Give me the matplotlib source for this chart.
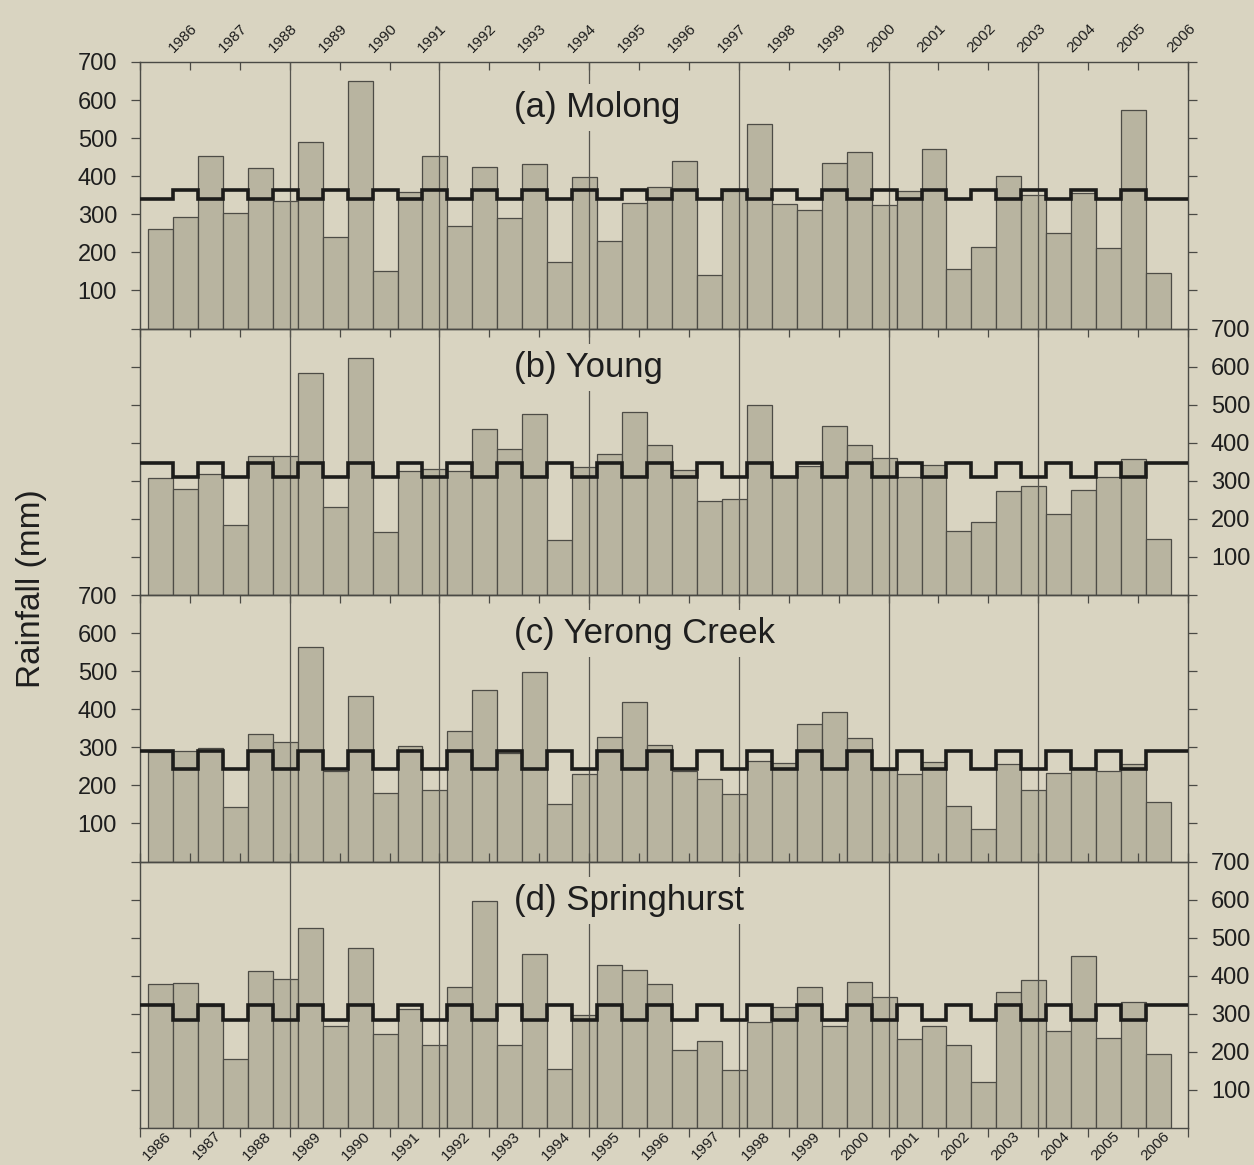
import numpy as np
import matplotlib
matplotlib.use("Agg")
import matplotlib.pyplot as plt

plt.rcParams['font.family'] = ['Liberation Sans', 'DejaVu Sans']

# ---------------- data ----------------
years = list(range(1986, 2007))
panel_labels = ["(a) Molong", "(b) Young", "(c) Yerong Creek", "(d) Springhurst"]

# half-yearly (seasonal) rainfall, 41 seasons from 1986 to 2006 (mm)
molong = [261, 294, 454, 303, 421, 334, 491, 241, 649, 151, 359, 454, 268, 425, 290, 433,
          175, 399, 230, 330, 372, 441, 140, 360, 538, 328, 310, 436, 463, 325, 362, 471,
          155, 213, 400, 350, 251, 355, 211, 575, 146]
young = [308, 279, 319, 184, 366, 366, 584, 230, 622, 166, 326, 332, 327, 435, 383, 476,
         144, 335, 370, 480, 395, 329, 246, 253, 500, 311, 340, 444, 393, 360, 309, 342,
         169, 193, 273, 287, 212, 276, 311, 356, 148]
yerong = [288, 291, 299, 144, 335, 315, 564, 237, 436, 180, 304, 189, 344, 451, 284, 498,
          150, 229, 326, 418, 306, 237, 216, 178, 263, 259, 361, 392, 325, 241, 231, 261,
          147, 85, 257, 187, 233, 245, 237, 257, 156]
springhurst = [377, 380, 321, 180, 412, 391, 526, 268, 474, 248, 312, 218, 371, 596, 218, 458,
               156, 298, 429, 414, 377, 204, 228, 152, 279, 319, 370, 268, 383, 343, 235, 267,
               219, 122, 357, 390, 254, 452, 237, 330, 195]

# long-term seasonal means (first season, second season)
mean_first = [340, 346, 290, 324]
mean_second = [363, 311, 242, 284]

series = [molong, young, yerong, springhurst]
yticks = [100, 200, 300, 400, 500, 600, 700]

# ---------------- style ----------------
BG = '#d9d4c1'
BAR = '#b8b4a0'
EDGE = '#4d4c46'
LINE = '#1c1c1a'
TXT = '#1e1e1e'

W, H = 1254, 1165
fig = plt.figure(figsize=(W / 100, H / 100), dpi=100, facecolor=BG)

left_px, right_px = 140, 1188
top_px, panel_h = 62, 266.5

n = len(molong)
season_w = 0.5
first_edge = 1986.16
bar_left = first_edge + season_w * np.arange(n)
bar_center = bar_left + season_w / 2
xmin, xmax = years[0], years[-1] + 1

for k, (vals, lab) in enumerate(zip(series, panel_labels)):
    bottom_px = top_px + panel_h * (k + 1)
    ax = fig.add_axes([left_px / W, 1 - bottom_px / H, (right_px - left_px) / W, panel_h / H])
    ax.set_facecolor('none')
    ax.set_xlim(xmin, xmax)
    ax.set_ylim(0, 700)

    ax.bar(bar_center, vals, width=season_w, color=BAR, edgecolor=EDGE, linewidth=0.9, zorder=2)

    # alternating seasonal mean (step line)
    pattern = [mean_first[k] if i % 2 == 0 else mean_second[k] for i in range(n)]
    edges = np.concatenate([[xmin], bar_left[1:], [xmax]])
    ax.stairs(pattern, edges, baseline=None, color=LINE, linewidth=2.6, zorder=4)

    # vertical reference lines every 3 years
    ax.vlines(np.arange(1989, 2005, 3), 0, 700, color='#55544e', linewidth=0.9, zorder=3)

    ty = 580 if k == 0 else 598
    ax.text(1993.5, ty, lab, fontsize=25, color=TXT, ha='left', va='center', zorder=6,
            bbox=dict(boxstyle='square,pad=0.2', fc=BG, ec='none'))

    for s in ax.spines.values():
        s.set_color('#4a4a45')
        s.set_linewidth(1.0)

    # y axis
    ax.set_yticks(yticks)
    ax.set_yticklabels([str(v) for v in yticks])
    ax.tick_params(axis='y', direction='out', length=6.5, width=0.9, color='#4a4a45',
                   left=True, right=True, labelleft=(k % 2 == 0), labelright=(k % 2 == 1),
                   labelsize=17, labelcolor=TXT, pad=10)

    # x axis: year boundaries as major ticks, year labels as minor ticks
    ax.set_xticks(np.arange(xmin, xmax + 1))
    ax.set_xticklabels([])
    if k == 3:
        ax.tick_params(axis='x', which='major', direction='out', length=6.5, width=0.9,
                       color='#4a4a45', top=True, bottom=True)
    else:
        ax.tick_params(axis='x', which='major', direction='in', length=6, width=0.9,
                       color='#4a4a45', top=True, bottom=False)
    if k == 0:
        ax.set_xticks(np.array(years) + 0.72, labels=[str(y) for y in years], minor=True,
                      rotation=45, ha='left', va='bottom', rotation_mode='anchor',
                      fontsize=11, color=TXT)
        ax.tick_params(axis='x', which='minor', length=0, top=True, bottom=False,
                       labeltop=True, labelbottom=False, pad=5)
    elif k == 3:
        ax.set_xticks(np.array(years) + 0.48, labels=[str(y) for y in years], minor=True,
                      rotation=45, ha='right', va='top', rotation_mode='anchor',
                      fontsize=11, color=TXT)
        ax.tick_params(axis='x', which='minor', length=0, top=False, bottom=True,
                       labeltop=False, labelbottom=True, pad=0.5)
    else:
        ax.tick_params(axis='x', which='minor', length=0, labelbottom=False, labeltop=False)

fig.text(32 / W, 1 - 589 / H, "Rainfall (mm)", rotation=90, fontsize=24, color=TXT,
         ha='center', va='center')

fig.savefig("out.png", dpi=100, facecolor=BG)
